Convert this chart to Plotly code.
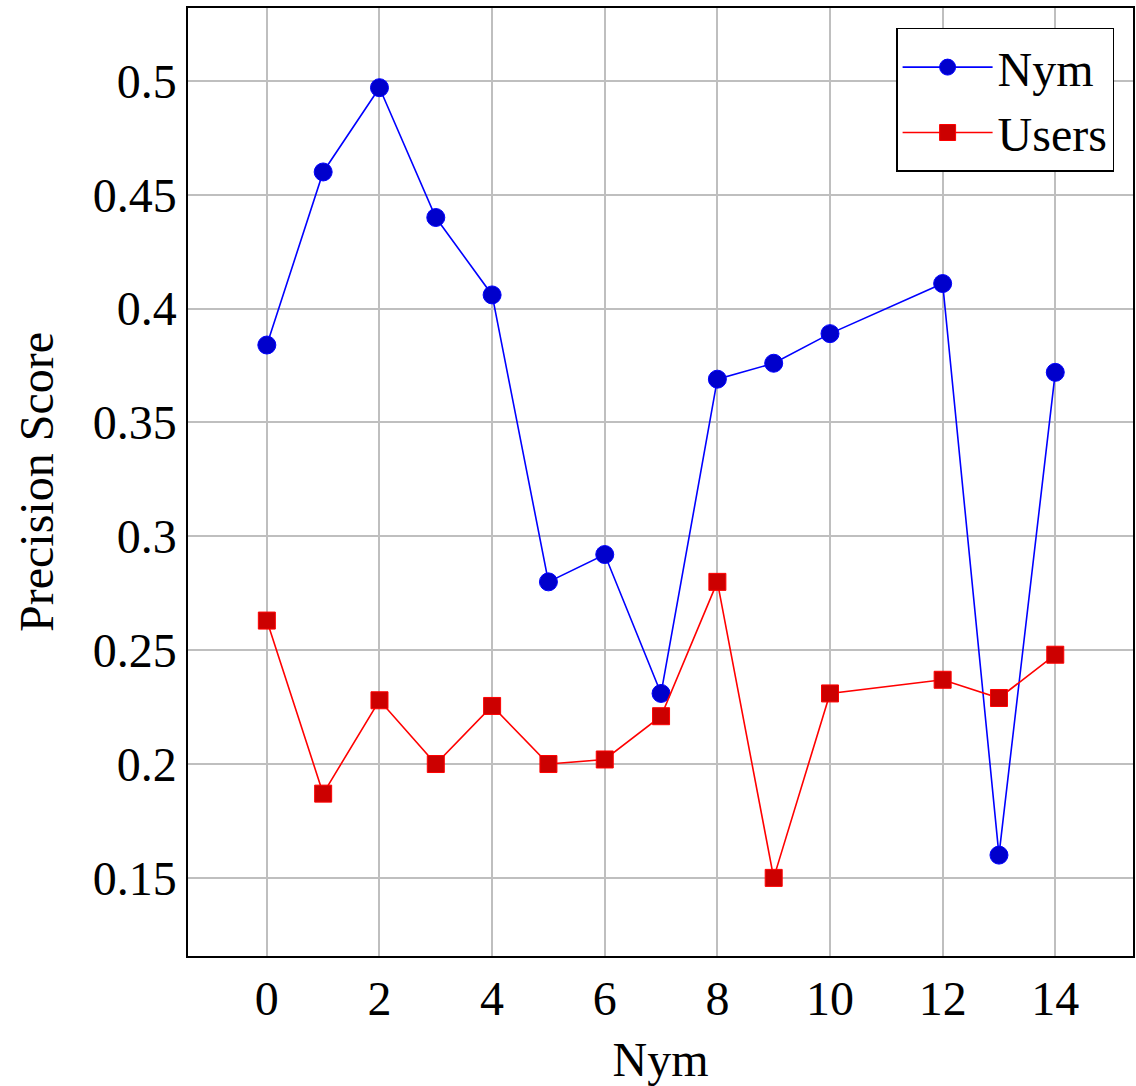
import plotly.graph_objects as go

x_vals = [0, 1, 2, 3, 4, 5, 6, 7, 8, 9, 10, 12, 13, 14]
nym_scores = [0.384, 0.460, 0.497, 0.440, 0.406, 0.280, 0.292, 0.231, 0.369, 0.376, 0.389, 0.411, 0.160, 0.372]
users_scores = [0.263, 0.187, 0.228, 0.200, 0.2255, 0.200, 0.202, 0.221, 0.280, 0.150, 0.231, 0.237, 0.229, 0.248]
x_ticks = [0, 2, 4, 6, 8, 10, 12, 14]
y_ticks = [0.15, 0.2, 0.25, 0.3, 0.35, 0.4, 0.45, 0.5]
y_tick_text = ["0.15", "0.2", "0.25", "0.3", "0.35", "0.4", "0.45", "0.5"]

FONT = "Liberation Serif"

fig = go.Figure()
fig.add_trace(go.Scatter(
    x=x_vals, y=nym_scores, name="Nym", mode="lines+markers",
    line=dict(color="#0000FF", width=1.6),
    marker=dict(symbol="circle", size=18, color="#0000CC", line=dict(color="#0000FF", width=1)),
))
fig.add_trace(go.Scatter(
    x=x_vals, y=users_scores, name="Users", mode="lines+markers",
    line=dict(color="#FF0000", width=1.6),
    marker=dict(symbol="square", size=17, color="#CC0000", line=dict(color="#FF0000", width=1)),
))

axis_common = dict(
    showgrid=True, gridcolor="#BFBFBF", gridwidth=1.5,
    showline=True, linecolor="black", linewidth=1.5, mirror=True,
    zeroline=False, ticks="", tickfont=dict(family=FONT, size=48, color="black"),
)

fig.update_layout(
    width=1136, height=1086,
    margin=dict(l=188, r=1, t=8, b=130),
    paper_bgcolor="white", plot_bgcolor="white",
    font=dict(family=FONT, size=48, color="black"),
    showlegend=True,
    legend=dict(
        x=0.98, y=0.979, xanchor="right", yanchor="top",
        bgcolor="white", bordercolor="black", borderwidth=1.5,
        font=dict(family=FONT, size=48, color="black"),
        itemwidth=90, tracegroupgap=0,
    ),
    xaxis=dict(
        range=[-1.4, 15.38], tickvals=x_ticks,
        title=dict(text="Nym", font=dict(family=FONT, size=48), standoff=20),
        **axis_common,
    ),
    yaxis=dict(
        range=[0.1157, 0.532], tickvals=y_ticks, ticktext=y_tick_text,
        title=dict(text="Precision Score", font=dict(family=FONT, size=48), standoff=24),
        **axis_common,
    ),
)

fig.write_html("out.html")
